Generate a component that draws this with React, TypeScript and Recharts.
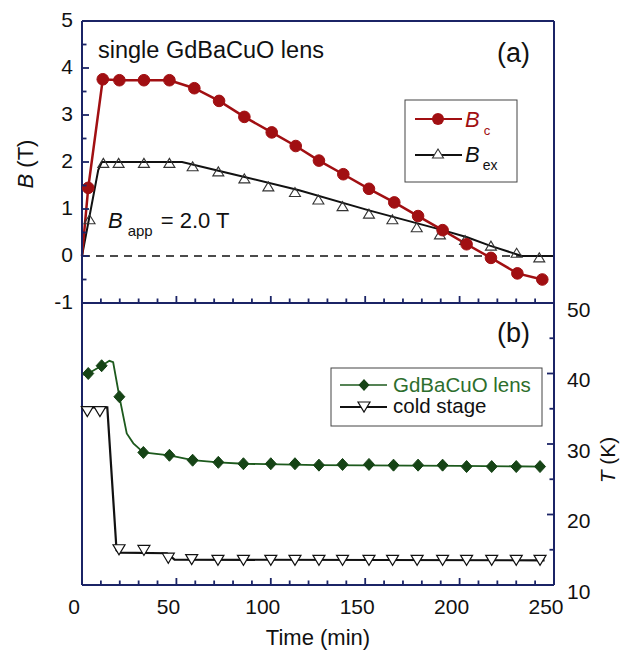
import React from 'react';
import { ComposedChart, Line, XAxis, YAxis, ReferenceLine } from 'recharts';

// ---- panel (a): magnetic field ----
const bcTime = [0, 3.3, 11, 19.8, 32.8, 46.3, 59.5, 72.6, 86, 100.5, 113.2, 125.5, 138.4, 152, 165.4, 178, 191, 203.7, 216.6, 230.6, 243.8];
const bcValue = [0, 1.45, 3.76, 3.74, 3.74, 3.74, 3.57, 3.3, 2.96, 2.63, 2.34, 2.03, 1.74, 1.43, 1.14, 0.85, 0.55, 0.25, -0.04, -0.37, -0.5];

const bexLineTime = [0, 8.6, 10.5, 53, 80, 115, 152, 191, 204, 216, 233, 250];
const bexLineValue = [0, 1.83, 2.0, 2.0, 1.74, 1.4, 0.97, 0.55, 0.4, 0.22, 0, 0];
const bexMarkTime = [4, 11.3, 19.4, 32.8, 46.3, 58.6, 72.2, 86, 98.7, 112.8, 125.2, 138, 152, 164.4, 177.3, 189.6, 202.9, 216.6, 230.2, 242.2];
const bexMarkValue = [0.77, 1.97, 1.97, 1.97, 1.97, 1.9, 1.79, 1.64, 1.47, 1.35, 1.19, 1.05, 0.89, 0.77, 0.6, 0.45, 0.33, 0.21, 0.06, -0.04];

// ---- panel (b): temperature ----
const lensLineTime = [0, 3.3, 10.4, 14.5, 16.5, 19.8, 23.7, 27.2, 32.5, 46.3, 58.6, 72.2, 85.5, 125, 200, 244];
const lensLineValue = [39.8, 40.0, 41.1, 41.8, 41.6, 36.7, 31.5, 30.1, 28.8, 28.4, 27.7, 27.4, 27.2, 27.0, 26.9, 26.8];
const lensMarkTime = [3.3, 10.4, 19.8, 32.5, 46.3, 58.6, 72.2, 85.5, 100, 112.8, 125.5, 138, 152, 165, 178, 191, 203.7, 217, 230, 242.6];
const lensMarkValue = [40.0, 41.1, 36.7, 28.8, 28.4, 27.7, 27.4, 27.2, 27.2, 27.2, 27.0, 27.1, 27.1, 27.0, 27.0, 27.0, 26.8, 26.8, 26.8, 26.8];

const coldLineTime = [0, 13.4, 18.3, 20, 45, 49, 245];
const coldLineValue = [35.2, 35.2, 14.9, 14.6, 14.5, 13.6, 13.5];
const coldMarkTime = [2.8, 9.5, 19.6, 32.8, 45.7, 58.1, 72, 85.5, 100, 112.8, 125.5, 138, 152, 164.5, 177.5, 191, 203.7, 217, 230, 242.6];
const coldMarkValue = [34.6, 34.6, 15.0, 14.9, 13.8, 13.6, 13.5, 13.5, 13.5, 13.5, 13.5, 13.5, 13.5, 13.5, 13.5, 13.5, 13.5, 13.5, 13.5, 13.5];

// ---- ticks ----
const timeTicks = [0, 10, 20, 30, 40, 50, 60, 70, 80, 90, 100, 110, 120, 130, 140, 150, 160, 170, 180, 190, 200, 210, 220, 230, 240, 250];
const bTicks = [-1, -0.5, 0, 0.5, 1, 1.5, 2, 2.5, 3, 3.5, 4, 4.5, 5];
const tTicks = [10, 15, 20, 25, 30, 35, 40, 45, 50];

const NAVY = '#1b2466';
const RED = '#a10f12';
const GREEN = '#1d5a1d';
const FONT = '"Liberation Sans", Arial, sans-serif';

const zip = (t: number[], v: number[]) => t.map((x, i) => ({ t: x, v: v[i] }));

type Side = 'top' | 'bottom' | 'left' | 'right';

// inward tick line + optional outward label
const makeTick = (side: Side, majorEvery: number, showLabel: boolean) => (p: any) => {
  const v = p.payload.value;
  const r = v / majorEvery;
  const major = Math.abs(r - Math.round(r)) < 1e-6;
  const len = major ? 7 : 4.5;
  const x = Number(p.x), y = Number(p.y);
  let x2 = x, y2 = y;
  if (side === 'bottom') y2 = y - len;
  if (side === 'top') y2 = y + len;
  if (side === 'left') x2 = x + len;
  if (side === 'right') x2 = x - len;
  let txt = null;
  if (showLabel && major) {
    if (side === 'bottom')
      txt = <text x={x - 8} y={y + 28.5} textAnchor="middle" fontSize={21} fill="#111" fontFamily={FONT}>{v}</text>;
    if (side === 'left')
      txt = <text x={x - 9} y={y + 5.5} textAnchor="end" fontSize={21} fill="#111" fontFamily={FONT}>{v}</text>;
    if (side === 'right')
      txt = <text x={x + 13} y={y + 13.5} textAnchor="start" fontSize={21} fill="#111" fontFamily={FONT}>{v}</text>;
  }
  return (
    <g>
      <line x1={x} y1={y} x2={x2} y2={y2} stroke={NAVY} strokeWidth={1.8} />
      {txt}
    </g>
  );
};

const axisLine = { stroke: NAVY, strokeWidth: 2 };

const Circle = (p: any) => {
  if (p.index === 0 || p.cx == null) return <g key={p.key} />;
  return <circle key={p.key} cx={p.cx} cy={p.cy} r={5.8} fill={RED} stroke={RED} strokeWidth={1} />;
};
const TriUp = (p: any) => (
  <path key={p.key} d={`M${p.cx},${p.cy - 5} L${p.cx + 5.5},${p.cy + 4} L${p.cx - 5.5},${p.cy + 4} Z`} fill="none" stroke="#333" strokeWidth={1.1} />
);
const Diamond = (p: any) => (
  <path key={p.key} d={`M${p.cx},${p.cy - 6} L${p.cx + 5.5},${p.cy} L${p.cx},${p.cy + 6} L${p.cx - 5.5},${p.cy} Z`} fill="#164416" stroke="#164416" strokeWidth={1} />
);
const TriDown = (p: any) => (
  <path key={p.key} d={`M${p.cx - 6},${p.cy - 5} L${p.cx + 6},${p.cy - 5} L${p.cx},${p.cy + 5} Z`} fill="#fff" stroke="#111" strokeWidth={1.2} />
);

export default function App() {
  return (
    <div style={{ position: 'absolute', left: 0, top: 0, width: 622, height: 655, background: '#fff', fontFamily: FONT }}>
      <div style={{ position: 'absolute', left: 0, top: 293 }}>
        <ComposedChart width={622} height={362} margin={{ top: 9, right: 0, bottom: 0, left: 0 }}>
          <XAxis type="number" interval={0} tickLine={false} tickSize={0} tickMargin={0} axisLine={axisLine} xAxisId="bot" dataKey="t" orientation="bottom" height={70} domain={[0, 250]} ticks={timeTicks} tick={makeTick('bottom', 50, true)} />
          <XAxis type="number" interval={0} tickLine={false} tickSize={0} tickMargin={0} axisLine={axisLine} xAxisId="top" dataKey="t" orientation="top" height={1} domain={[0, 250]} ticks={timeTicks} tick={makeTick('top', 50, false)} />
          <YAxis type="number" interval={0} tickLine={false} tickSize={0} tickMargin={0} axisLine={axisLine} yAxisId="l" dataKey="v" orientation="left" width={82} domain={[10, 50]} ticks={tTicks} tick={makeTick('left', 5, false)} />
          <YAxis type="number" interval={0} tickLine={false} tickSize={0} tickMargin={0} axisLine={axisLine} yAxisId="r" dataKey="v" orientation="right" width={68} domain={[10, 50]} ticks={tTicks} tick={makeTick('right', 10, true)} />
          <Line xAxisId="bot" yAxisId="r" data={zip(coldLineTime, coldLineValue)} dataKey="v" stroke="#111" strokeWidth={2.2} dot={false} isAnimationActive={false} />
          <Line xAxisId="bot" yAxisId="r" data={zip(coldMarkTime, coldMarkValue)} dataKey="v" stroke="none" dot={TriDown} activeDot={false} isAnimationActive={false} />
          <Line xAxisId="bot" yAxisId="r" data={zip(lensLineTime, lensLineValue)} dataKey="v" stroke={GREEN} strokeWidth={1.8} dot={false} isAnimationActive={false} />
          <Line xAxisId="bot" yAxisId="r" data={zip(lensMarkTime, lensMarkValue)} dataKey="v" stroke="none" dot={Diamond} activeDot={false} isAnimationActive={false} />
        </ComposedChart>
      </div>
      <div style={{ position: 'absolute', left: 0, top: 0 }}>
        <ComposedChart width={622} height={325} margin={{ top: 20, right: 0, bottom: 21, left: 0 }}>
          <XAxis type="number" interval={0} tickLine={false} tickSize={0} tickMargin={0} axisLine={axisLine} xAxisId="bot" dataKey="t" orientation="bottom" height={1} domain={[0, 250]} ticks={timeTicks} tick={makeTick('bottom', 50, false)} />
          <XAxis type="number" interval={0} tickLine={false} tickSize={0} tickMargin={0} axisLine={axisLine} xAxisId="top" dataKey="t" orientation="top" height={1} domain={[0, 250]} ticks={timeTicks} tick={makeTick('top', 50, false)} />
          <YAxis type="number" interval={0} tickLine={false} tickSize={0} tickMargin={0} axisLine={axisLine} yAxisId="l" dataKey="v" orientation="left" width={82} domain={[-1, 5]} ticks={bTicks} tick={makeTick('left', 1, true)} />
          <YAxis type="number" interval={0} tickLine={false} tickSize={0} tickMargin={0} axisLine={axisLine} yAxisId="r" dataKey="v" orientation="right" width={68} domain={[-1, 5]} ticks={bTicks} tick={makeTick('right', 1, false)} />
          <ReferenceLine xAxisId="bot" yAxisId="l" y={0} stroke="#111" strokeWidth={1.6} strokeDasharray="8 6" />
          <Line xAxisId="bot" yAxisId="l" data={zip(bexLineTime, bexLineValue)} dataKey="v" stroke="#111" strokeWidth={2} dot={false} isAnimationActive={false} />
          <Line xAxisId="bot" yAxisId="l" data={zip(bexMarkTime, bexMarkValue)} dataKey="v" stroke="none" dot={TriUp} activeDot={false} isAnimationActive={false} />
          <Line xAxisId="bot" yAxisId="l" data={zip(bcTime, bcValue)} dataKey="v" stroke={RED} strokeWidth={2.5} dot={Circle} activeDot={false} isAnimationActive={false} />
        </ComposedChart>
      </div>
      <svg width={622} height={655} style={{ position: 'absolute', left: 0, top: 0, pointerEvents: 'none' }} fontFamily={FONT}>
        <text x={98} y={58} fontSize={23.5} fill="#111">single GdBaCuO lens</text>
        <text x={497} y={62} fontSize={27} fill="#111">(a)</text>
        <text x={497} y={342} fontSize={27} fill="#111">(b)</text>
        <text x={108} y={228} fontSize={22} fill="#111">
          <tspan fontStyle="italic">B</tspan>
          <tspan fontSize={15} dx={5} dy={8}>app</tspan>
          <tspan dx={8} dy={-8}>= 2.0 T</tspan>
        </text>
        <text x={25} y={164} fontSize={22} fill="#111" textAnchor="middle" dominantBaseline="central" transform="rotate(-90 25 164)">
          <tspan fontStyle="italic">B</tspan> (T)
        </text>
        <text x={607} y={460} fontSize={21} fill="#111" textAnchor="middle" dominantBaseline="central" transform="rotate(-90 607 460)">
          <tspan fontStyle="italic">T</tspan> (K)
        </text>
        <text x={318} y={645} fontSize={22} fill="#111" textAnchor="middle">Time (min)</text>

        <rect x={405} y={100} width={112} height={82} fill="#fff" stroke="#444" strokeWidth={1} />
        <line x1={415} y1={119} x2={462} y2={119} stroke={RED} strokeWidth={2} />
        <circle cx={438} cy={119} r={6} fill={RED} />
        <text x={465} y={127} fontSize={22} fill={RED}>
          <tspan fontStyle="italic">B</tspan>
          <tspan fontSize={13} dx={4} dy={8}>c</tspan>
        </text>
        <line x1={415} y1={155} x2={462} y2={155} stroke="#111" strokeWidth={2} />
        <path d="M438,149 L443.5,158 L432.5,158 Z" fill="#fff" stroke="#333" strokeWidth={1.1} />
        <text x={465} y={162} fontSize={22} fill="#111">
          <tspan fontStyle="italic">B</tspan>
          <tspan fontSize={14} dx={3} dy={8}>ex</tspan>
        </text>

        <rect x={331} y={368} width={211} height={58} fill="#fff" stroke="#444" strokeWidth={1} />
        <line x1={340} y1={385} x2={387} y2={385} stroke={GREEN} strokeWidth={1.5} />
        <path d="M364,379 L369.5,385 L364,391 L358.5,385 Z" fill="#164416" />
        <text x={393} y={392} fontSize={20.5} fill="#2d6e2d">GdBaCuO lens</text>
        <line x1={340} y1={407} x2={387} y2={407} stroke="#111" strokeWidth={2} />
        <path d="M358,402 L370,402 L364,412 Z" fill="#fff" stroke="#111" strokeWidth={1.2} />
        <text x={393} y={413} fontSize={20.5} fill="#111">cold stage</text>
      </svg>
    </div>
  );
}
